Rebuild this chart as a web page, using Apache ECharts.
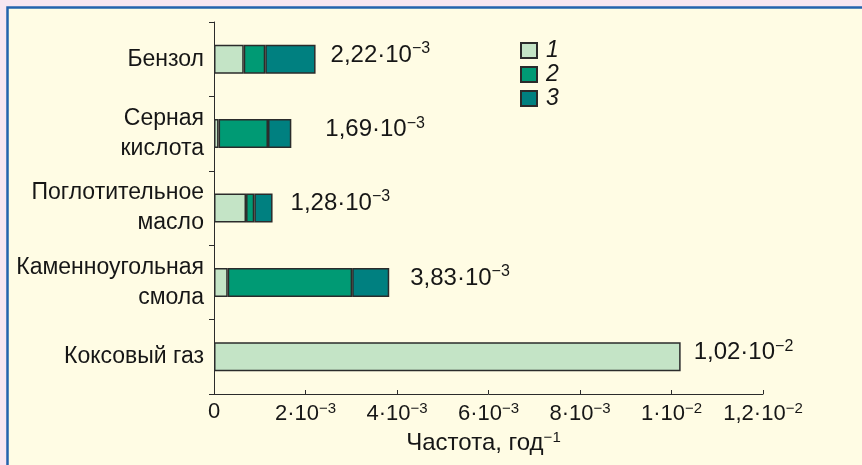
<!DOCTYPE html>
<html>
<head>
<meta charset="utf-8">
<script src="https://cdn.jsdelivr.net/npm/echarts@6/dist/echarts.min.js"></script>
<style>
html,body{margin:0;padding:0;background:#f8e6f1;}
#c{width:862px;height:465px;}
</style>
</head>
<body>
<div id="c"></div>
<script>
// Data (frequency in units of 10^-3 per year)
var categories = ['Бензол', 'Серная\nкислота', 'Поглотительное\nмасло', 'Каменноугольная\nсмола', 'Коксовый газ'];
var series1 = [0.65, 0.10, 0.70, 0.30, 10.2];
var series2 = [0.47, 1.08, 0.18, 2.72, null];
var series3 = [1.10, 0.51, 0.40, 0.81, null];
var totalMantissa = ['2,22', '1,69', '1,28', '3,83', '1,02'];
var totalExponent = ['−3', '−3', '−3', '−3', '−2'];
var legendNames = ['1', '2', '3'];
var xTickValues = [0, 2, 4, 6, 8, 10, 12];
var xTickMantissa = ['0', '2·10', '4·10', '6·10', '8·10', '1·10', '1,2·10'];
var xTickExponent = ['', '−3', '−3', '−3', '−3', '−2', '−2'];
var axisTitle = 'Частота, год';
var axisTitleExp = '−1';

// Styling
var FONT = 'Liberation Sans';
var TXT = '#161616';
var colors = ['#c4e4c6', '#009a74', '#008080'];
var labelOffsets = [[15, -4], [34, -4], [18, -5], [21, -4], [13, -4]];

var totals = categories.map(function (c, i) {
  return (series1[i] || 0) + (series2[i] || 0) + (series3[i] || 0);
});

var chart = echarts.init(document.getElementById('c'));

function barSeries(name, data, color) {
  return {
    name: name,
    type: 'bar',
    stack: 'total',
    data: data,
    barWidth: 29,
    itemStyle: { color: color, borderColor: '#2b2b2b', borderWidth: 1.5 },
    emphasis: { disabled: true },
    animation: false
  };
}

var option = {
  animation: false,
  graphic: [{
    type: 'rect',
    z: -10,
    silent: true,
    shape: { x: 7.5, y: 7.5, width: 900, height: 500 },
    style: { fill: '#fffce4', stroke: '#2463ad', lineWidth: 2.5 }
  }],
  legend: {
    orient: 'vertical',
    left: 515,
    top: 34,
    itemWidth: 16,
    itemHeight: 15,
    itemGap: 1,
    icon: 'rect',
    data: legendNames,
    textStyle: { fontFamily: FONT, fontSize: 23, fontStyle: 'italic', color: TXT, padding: [0, 0, 0, 4] },
    selectedMode: false
  },
  grid: { left: 214, right: 99, top: 22, bottom: 71, containLabel: false },
  xAxis: {
    type: 'value',
    min: 0,
    max: 12,
    interval: 2,
    splitLine: { show: false },
    axisLine: { show: true, lineStyle: { color: '#2b2b2b', width: 1 } },
    axisTick: { show: true, inside: true, length: 4, lineStyle: { color: '#2b2b2b' } },
    axisLabel: {
      margin: 7,
      formatter: function (v) {
        var i = xTickValues.indexOf(Math.round(v));
        if (i < 0) return '';
        return xTickExponent[i] ? '{m|' + xTickMantissa[i] + '}{s|' + xTickExponent[i] + '}' : '{m|' + xTickMantissa[i] + '}';
      },
      rich: {
        m: { fontFamily: FONT, fontSize: 22, color: TXT },
        s: { fontFamily: FONT, fontSize: 15, color: TXT, padding: [0, 0, 10, 0] }
      }
    },
    name: '{m|' + axisTitle + '}{s|' + axisTitleExp + '}',
    nameLocation: 'middle',
    nameGap: 36,
    nameTextStyle: {
      padding: [0, 10, 0, 0],
      rich: {
        m: { fontFamily: FONT, fontSize: 24, color: TXT },
        s: { fontFamily: FONT, fontSize: 15, color: TXT, padding: [0, 0, 12, 0] }
      }
    }
  },
  yAxis: {
    type: 'category',
    data: categories,
    inverse: true,
    axisLine: { show: true, lineStyle: { color: '#2b2b2b', width: 1 } },
    axisTick: { show: true, length: 5, lineStyle: { color: '#2b2b2b' } },
    axisLabel: { fontFamily: FONT, fontSize: 23, color: TXT, lineHeight: 30, margin: 10, align: 'right' }
  },
  series: [
    barSeries(legendNames[0], series1, colors[0]),
    barSeries(legendNames[1], series2, colors[1]),
    barSeries(legendNames[2], series3, colors[2]),
    {
      type: 'scatter',
      symbolSize: 0,
      silent: true,
      itemStyle: { opacity: 1 },
      data: totals.map(function (t, i) {
        return {
          value: [t, i],
          label: {
            show: true,
            position: 'right',
            distance: 0,
            offset: labelOffsets[i],
            opacity: 1,
            formatter: '{m|' + totalMantissa[i] + '·10}{s|' + totalExponent[i] + '}',
            rich: {
              m: { fontFamily: FONT, fontSize: 24, color: TXT },
              s: { fontFamily: FONT, fontSize: 16, color: TXT, padding: [0, 0, 13, 0] }
            }
          }
        };
      })
    }
  ]
};
chart.setOption(option);
</script>
</body>
</html>
